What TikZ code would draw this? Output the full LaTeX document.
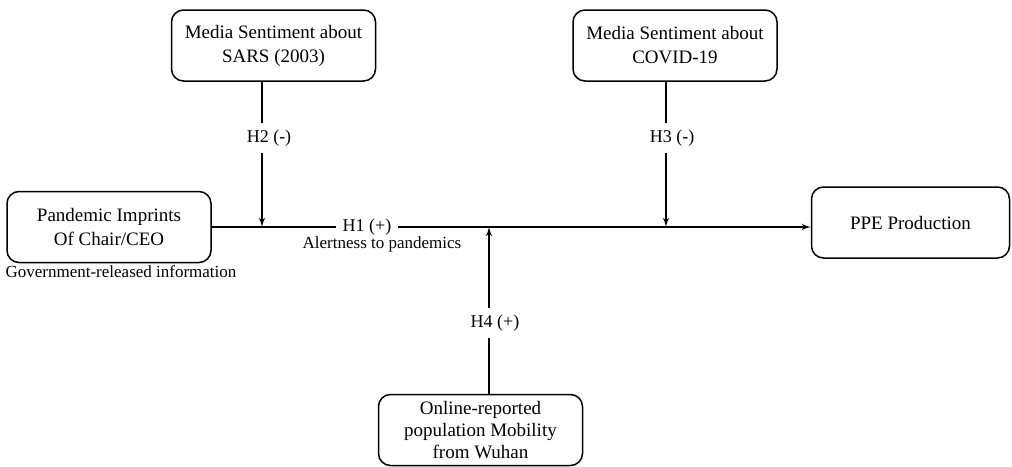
\documentclass[tikz,border=0pt]{standalone}
\usepackage{fontspec}
\setmainfont{Liberation Serif}
\usetikzlibrary{arrows, arrows.meta}
\tikzset{factor/.style = {shape = rectangle, draw, rounded corners = 6pt, line width = 0.75pt, minimum width = 102pt, minimum height = 35.5pt, inner sep = 1pt, align = center, font = \fontsize{9.5}{12}\selectfont}}
\tikzset{hyp/.style = {inner sep = 3pt, font = \fontsize{9}{12}\selectfont}}
\tikzset{note/.style = {inner sep = 0pt, font = \fontsize{8.5}{10}\selectfont}}
\tikzset{edge/.style = {-, line width = 0.6pt, > = latex'}}

\begin{document}
\begin{tikzpicture}[x = 0.5pt, y = -0.5pt]
	\useasboundingbox (0, 0) rectangle (1012, 466);

	\node[factor] (sars) at (273.5, 45.5) {Media Sentiment about\\SARS (2003)};
	\node[factor] (covid) at (675, 45.5) {Media Sentiment about\\COVID-19};
	\node[factor] (imprint) at (109, 227) {Pandemic Imprints\\Of Chair/CEO};
	\node[factor, minimum width = 99pt] (ppe) at (910.5, 222.5) {PPE Production};
	\node[factor, font = \fontsize{9.5}{10.8}\selectfont] (mobility) at (480.5, 430) {Online-reported\\population Mobility\\from Wuhan};

	\coordinate (j2) at (262, 227);
	\coordinate (j3) at (666, 227);
	\coordinate (j4) at (489, 227);

	\node[hyp] (h1) at (367, 227) {H1 (+)};
	\node[hyp] (h2) at (269, 138) {H2 (-)};
	\node[hyp] (h3) at (672, 138) {H3 (-)};
	\node[hyp] (h4) at (495, 323) {H4 (+)};
	\node[note] (alert) at (382, 244) {Alertness to pandemics};
	\node[note] (gov) at (121, 272) {Government-released information};

	\draw[edge] (imprint) -- (h1);
	\draw[edge, ->] (h1) -- (h1 -| ppe.west);
	\draw[edge] (sars.south -| j2) -- (h2.north -| j2);
	\draw[edge, ->] (h2.south -| j2) -- (j2);
	\draw[edge] (covid.south -| j3) -- (h3.north -| j3);
	\draw[edge, ->] (h3.south -| j3) -- (j3);
	\draw[edge] (mobility.north -| j4) -- (h4.south -| j4);
	\draw[edge, ->] (h4.north -| j4) -- (j4);
\end{tikzpicture}
\end{document}
